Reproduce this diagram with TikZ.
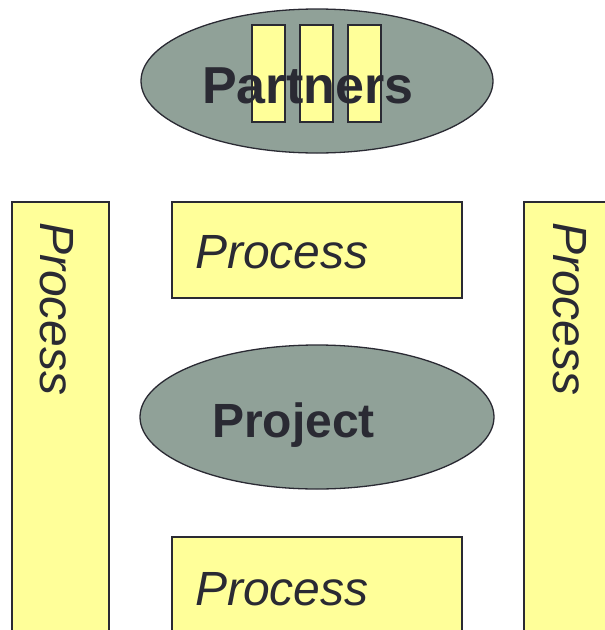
\documentclass[tikz,border=0pt]{standalone}
\usepackage{fontspec}
\setmainfont{Liberation Sans}
\usetikzlibrary{shapes.geometric}
\definecolor{paleyellow}{HTML}{FFFF99}
\definecolor{sage}{HTML}{90A198}
\definecolor{ink}{HTML}{2A2A33}
\tikzset{
  box/.style={draw=ink, fill=paleyellow, line width=1.3pt},
  oval/.style={draw=ink, fill=sage, line width=1.3pt},
  proclabel/.style={inner sep=0pt, text=ink, font=\fontsize{48}{48}\selectfont\itshape},
  boldlabel/.style={inner sep=0pt, text=ink, font=\fontsize{#1}{#1}\selectfont\bfseries},
}
\begin{document}
\begin{tikzpicture}[x=1pt, y=-1pt]
  \useasboundingbox (0,0) rectangle (605,630);
  \clip (0,0) rectangle (605,630);

  % partners oval with its three slips
  \node[oval, ellipse, minimum width=352pt, minimum height=144pt, inner sep=0pt] (partners) at (317,81) {};
  \draw[box] (252,25) rectangle (285,122);
  \draw[box] (300,25) rectangle (333,122);
  \draw[box] (348,25) rectangle (381,122);
  \node[boldlabel=52, anchor=base west] (partnerstext) at (202,103) {Partners};

  % side processes
  \draw[box] (12,202) rectangle (109,660);
  \node[proclabel, rotate=-90, anchor=base west] (lefttext) at (40,222) {Process};
  \draw[box] (524,202) rectangle (640,660);
  \node[proclabel, rotate=-90, anchor=base west] (righttext) at (553,222) {Process};

  % upper middle process
  \draw[box] (172,202) rectangle (462,298);
  \node[proclabel, anchor=base west] (toptext) at (195,268) {Process};

  % project oval
  \node[oval, ellipse, minimum width=354pt, minimum height=144pt, inner sep=0pt] (project) at (317,417) {};
  \node[boldlabel=48, anchor=base west] (projecttext) at (212,437) {Project};

  % lower middle process
  \draw[box] (172,537) rectangle (462,660);
  \node[proclabel, anchor=base west] (bottomtext) at (195,605) {Process};
\end{tikzpicture}
\end{document}
